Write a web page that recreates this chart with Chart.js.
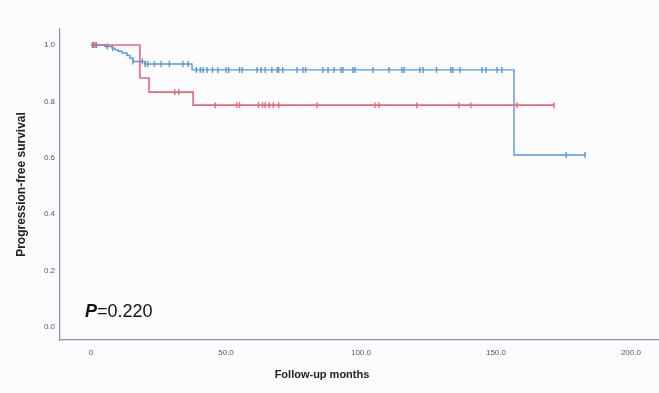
<!DOCTYPE html>
<html lang="en">
<head>
<meta charset="UTF-8">
<title>Progression-free survival</title>
<script src="https://cdn.jsdelivr.net/npm/chart.js@4.4.1/dist/chart.umd.min.js"></script>
<style>
    body {
        margin: 0;
        background: #fcfcfe;
        font-family: 'Liberation Sans', Arial, sans-serif;
    }
    #wrap {
        position: relative;
        width: 659px;
        height: 393px;
    }
    #pval {
        position: absolute;
        left: 85px;
        top: 301px;
        font-size: 18px;
        color: #111;
    }
    #pval i {
        font-weight: bold;
    }
    #xtitle {
        position: absolute;
        left: 222px;
        width: 200px;
        top: 368px;
        text-align: center;
        font-weight: bold;
        font-size: 11px;
        color: #222;
    }
</style>
</head>
<body>
<div id="wrap">
    <canvas id="km" width="659" height="393"></canvas>
    <div id="pval"><i>P</i>=0.220</div>
    <div id="xtitle">Follow-up months</div>
</div>
<script>
// step points of the two curves (month, survival after that month)
var redTimes = [0, 18.1, 21.5, 37.8, 171.5];
var redSurv  = [1.0, 0.883, 0.833, 0.787, 0.787];
var blueTimes = [0, 5.2, 7.8, 8.9, 10, 11.5, 13.3, 14.4, 15.5, 20, 37.4, 156.7, 183];
var blueSurv  = [1.0, 0.995, 0.989, 0.983, 0.978, 0.972, 0.963, 0.954, 0.942, 0.933, 0.912, 0.61, 0.61];

// censored observations (months)
var redCensor = [0.5, 1.5, 31, 32.5, 46, 54, 55, 62, 63.5, 64.5, 66, 67.5, 69.5, 83.7,
                 105.2, 106.7, 120.7, 136.3, 140.7, 157.8, 171.5];
var blueCensor = [1, 2, 6, 8, 15.5, 19, 20, 21, 23.5, 26, 29, 34, 36, 39, 40.5, 41.5, 43, 45, 47,
                  50, 51, 55, 56, 61.5, 63, 64.5, 67, 69, 69.5, 71, 76.3, 78.5, 79.5, 85.9, 87.8,
                  90, 92.6, 93.3, 97, 97.8, 104.4, 110.4, 115.2, 116, 121.8, 123, 128, 133.3, 134,
                  136.7, 144.8, 146.3, 150.4, 152.2, 176, 183];

var xTicks = [0, 50, 100, 150, 200];
var yTicks = [0, 0.2, 0.4, 0.6, 0.8, 1.0];

var redColor = '#e7667a';
var blueColor = '#5598d8';

function survAt(times, surv, t) {
    var v = surv[0];
    for (var i = 0; i < times.length; i++) {
        if (times[i] <= t) v = surv[i];
    }
    return v;
}

function curve(times, surv) {
    return times.map(function(t, i) { return { x: t, y: surv[i] }; });
}

function marks(list, times, surv) {
    return list.map(function(t) { return { x: t, y: survAt(times, surv, t) }; });
}

function markSet(data, color) {
    return {
        type: 'scatter',
        data: data,
        showLine: false,
        pointStyle: 'line',
        rotation: 90,
        radius: 3,
        borderWidth: 1.4,
        borderColor: color,
        backgroundColor: color
    };
}

var tickFont = { family: "'Liberation Sans', Arial, sans-serif", size: 8 };
var axisColor = '#7f97ad';

new Chart(document.getElementById('km').getContext('2d'), {
    type: 'line',
    data: {
        datasets: [
            {
                data: curve(redTimes, redSurv),
                stepped: 'before',
                borderColor: redColor,
                borderWidth: 1.6,
                pointRadius: 0,
                fill: false
            },
            markSet(marks(redCensor, redTimes, redSurv), redColor),
            {
                data: curve(blueTimes, blueSurv),
                stepped: 'before',
                borderColor: blueColor,
                borderWidth: 1.4,
                pointRadius: 0,
                fill: false
            },
            markSet(marks(blueCensor, blueTimes, blueSurv), blueColor)
        ]
    },
    options: {
        responsive: false,
        animation: false,
        layout: { autoPadding: false, padding: { top: 29, right: 0, left: 0, bottom: 0 } },
        plugins: {
            legend: { display: false },
            tooltip: { enabled: false }
        },
        scales: {
            x: {
                type: 'linear',
                min: -11.5,
                max: 210.4,
                afterBuildTicks: function(scale) {
                    scale.ticks = xTicks.map(function(v) { return { value: v }; });
                },
                afterFit: function(scale) {
                    scale.height = 53;
                    scale.paddingLeft = 0;
                    scale.paddingRight = 0;
                },
                grid: { display: false, drawTicks: false },
                border: { display: true, color: axisColor, width: 1.2 },
                ticks: {
                    padding: 8,
                    color: '#4d5866',
                    font: tickFont,
                    maxRotation: 0,
                    callback: function(v) { return v === 0 ? '0' : v.toFixed(1); }
                }
            },
            y: {
                min: -0.046,
                max: 1.057,
                afterBuildTicks: function(scale) {
                    scale.ticks = yTicks.map(function(v) { return { value: v }; });
                },
                afterFit: function(scale) {
                    scale.width = 60;
                    scale.paddingTop = 0;
                    scale.paddingBottom = 0;
                },
                grid: { display: false, drawTicks: false },
                border: { display: true, color: axisColor, width: 1.2 },
                ticks: {
                    padding: 5,
                    color: '#4d5866',
                    font: tickFont,
                    callback: function(v) { return v.toFixed(1); }
                },
                title: {
                    display: true,
                    text: 'Progression-free survival',
                    color: '#222',
                    font: { family: "'Liberation Sans', Arial, sans-serif", size: 12, weight: 'bold' },
                    padding: { top: 14, bottom: 0 }
                }
            }
        }
    }
});
</script>
</body>
</html>
